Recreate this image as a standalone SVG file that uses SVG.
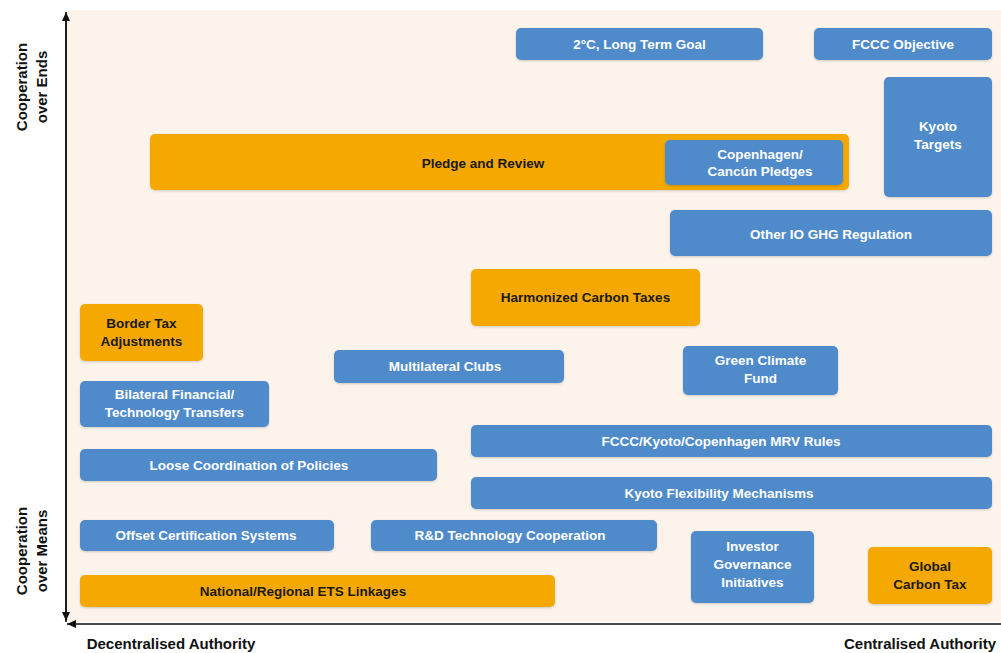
<svg xmlns="http://www.w3.org/2000/svg" width="1001" height="653" viewBox="0 0 1001 653">
<defs>
<style>
.b{fill:#4f8bcb;}
.o{fill:#f5a800;}
.n rect{filter:url(#sh);}
.t{font-family:"Liberation Sans",Arial,sans-serif;font-weight:bold;font-size:13.5px;text-anchor:middle;}
.tw{fill:#ffffff;}
.tk{fill:#1a1a1a;}
.ax{font-family:"Liberation Sans",Arial,sans-serif;font-weight:bold;font-size:15px;fill:#111;}
</style>
<filter id="sh" x="-5%" y="-20%" width="110%" height="140%">
<feDropShadow dx="0" dy="1" stdDeviation="1" flood-color="#000" flood-opacity="0.18"/>
</filter>
<marker id="ah" markerWidth="10" markerHeight="10" refX="9" refY="5" orient="auto" markerUnits="userSpaceOnUse">
<path d="M0,1 L9,5 L0,9 Z" fill="#111"/>
</marker>
</defs>
<rect x="0" y="0" width="1001" height="653" fill="#ffffff"/>
<rect x="67" y="10" width="934" height="612" fill="#fcf4eb"/>

<g id="axes">
<line x1="66" y1="622" x2="66" y2="12" stroke="#111" stroke-width="1.5" marker-end="url(#ah)"/>
<line x1="66" y1="14" x2="66" y2="621" stroke="#111" stroke-width="1.5" marker-end="url(#ah)"/>
<line x1="1001" y1="624" x2="67" y2="624" stroke="#111" stroke-width="1.5" marker-end="url(#ah)"/>
</g>

<g id="axis-labels">
<text class="ax" transform="translate(27,87) rotate(-90)" text-anchor="middle">Cooperation</text>
<text class="ax" transform="translate(47,87) rotate(-90)" text-anchor="middle">over Ends</text>
<text class="ax" transform="translate(27,551) rotate(-90)" text-anchor="middle">Cooperation</text>
<text class="ax" transform="translate(47,551) rotate(-90)" text-anchor="middle">over Means</text>
<text class="ax" x="171" y="649" text-anchor="middle">Decentralised Authority</text>
<text class="ax" x="920" y="649" text-anchor="middle">Centralised Authority</text>
</g>

<g id="connectors"></g>

<g id="n-2c" class="n"><rect class="b" x="516" y="28" width="247" height="32" rx="5"/><text class="t tw" x="639.5" y="48.5">2°C, Long Term Goal</text></g>
<g id="n-fccc" class="n"><rect class="b" x="814" y="28" width="178" height="32" rx="5"/><text class="t tw" x="903" y="48.5">FCCC Objective</text></g>
<g id="n-kyoto" class="n"><rect class="b" x="884" y="77" width="108" height="120" rx="5"/><text class="t tw" x="938" y="131">Kyoto</text><text class="t tw" x="938" y="149">Targets</text></g>
<g id="n-pledge" class="n"><rect class="o" x="150" y="134" width="699" height="56" rx="5"/><text class="t tk" x="483" y="167.5">Pledge and Review</text></g>
<g id="n-copen" class="n"><rect class="b" x="665" y="140" width="178" height="45" rx="5"/><text class="t tw" x="760" y="159">Copenhagen/</text><text class="t tw" x="760" y="176">Cancún Pledges</text></g>
<g id="n-otherio" class="n"><rect class="b" x="670" y="210" width="322" height="46" rx="5"/><text class="t tw" x="831" y="238.5">Other IO GHG Regulation</text></g>
<g id="n-harm" class="n"><rect class="o" x="471" y="269" width="229" height="57" rx="5"/><text class="t tk" x="585.5" y="301.5">Harmonized Carbon Taxes</text></g>
<g id="n-border" class="n"><rect class="o" x="80" y="304" width="123" height="57" rx="5"/><text class="t tk" x="141.5" y="328">Border Tax</text><text class="t tk" x="141.5" y="346">Adjustments</text></g>
<g id="n-multi" class="n"><rect class="b" x="334" y="350" width="230" height="33" rx="5"/><text class="t tw" x="445" y="371">Multilateral Clubs</text></g>
<g id="n-gcf" class="n"><rect class="b" x="683" y="346" width="155" height="49" rx="5"/><text class="t tw" x="760.5" y="365">Green Climate</text><text class="t tw" x="760.5" y="383">Fund</text></g>
<g id="n-bilat" class="n"><rect class="b" x="80" y="381" width="189" height="46" rx="5"/><text class="t tw" x="174.5" y="399">Bilateral Financial/</text><text class="t tw" x="174.5" y="417">Technology Transfers</text></g>
<g id="n-mrv" class="n"><rect class="b" x="471" y="425" width="521" height="32" rx="5"/><text class="t tw" x="721" y="445.5">FCCC/Kyoto/Copenhagen MRV Rules</text></g>
<g id="n-loose" class="n"><rect class="b" x="80" y="449" width="357" height="32" rx="5"/><text class="t tw" x="249" y="469.5">Loose Coordination of Policies</text></g>
<g id="n-flex" class="n"><rect class="b" x="471" y="477" width="521" height="32" rx="5"/><text class="t tw" x="719" y="497.5">Kyoto Flexibility Mechanisms</text></g>
<g id="n-offset" class="n"><rect class="b" x="80" y="520" width="254" height="31" rx="5"/><text class="t tw" x="206" y="540">Offset Certification Systems</text></g>
<g id="n-rd" class="n"><rect class="b" x="371" y="520" width="286" height="31" rx="5"/><text class="t tw" x="510" y="540">R&amp;D Technology Cooperation</text></g>
<g id="n-investor" class="n"><rect class="b" x="691" y="531" width="123" height="72" rx="5"/><text class="t tw" x="752.5" y="551">Investor</text><text class="t tw" x="752.5" y="569">Governance</text><text class="t tw" x="752.5" y="587">Initiatives</text></g>
<g id="n-global" class="n"><rect class="o" x="868" y="547" width="124" height="57" rx="5"/><text class="t tk" x="930" y="571">Global</text><text class="t tk" x="930" y="589">Carbon Tax</text></g>
<g id="n-ets" class="n"><rect class="o" x="80" y="575" width="475" height="32" rx="5"/><text class="t tk" x="303" y="595.5">National/Regional ETS Linkages</text></g>
</svg>
